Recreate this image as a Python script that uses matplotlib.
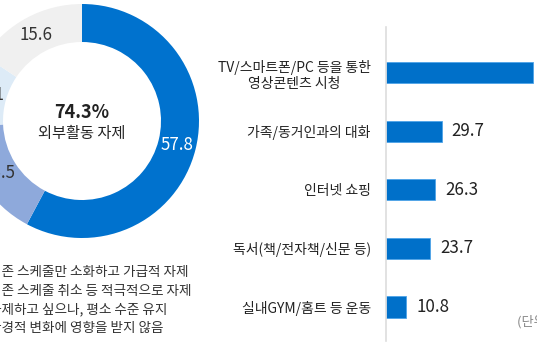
import numpy as np
import matplotlib
matplotlib.use("Agg")
import matplotlib.pyplot as plt

plt.rcParams['font.family'] = ['Noto Sans CJK KR', 'DejaVu Sans']

# 도넛 데이터
donut_values = [57.8, 16.5, 10.1, 15.6]
donut_colors = ['#0072CE', '#8EA9DB', '#DDEBF7', '#F0F0F0']
donut_text_colors = ['white', '#333333', '#333333', '#333333']
center_pct = "74.3%"
center_label = "외부활동 자제"

legend_lines = ["기존 스케줄만 소화하고 가급적 자제",
                "기존 스케줄 취소 등 적극적으로 자제",
                "자제하고 싶으나, 평소 수준 유지",
                "환경적 변화에 영향을 받지 않음"]

# 막대 데이터
bar_labels = ["TV/스마트폰/PC 등을 통한\n영상콘텐츠 시청",
              "가족/동거인과의 대화",
              "인터넷 쇼핑",
              "독서(책/전자책/신문 등)",
              "실내GYM/홈트 등 운동"]
bar_values = [78.6, 29.7, 26.3, 23.7, 10.8]
unit_text = "(단위: %)"

W, H = 537, 360
fig = plt.figure(figsize=(W / 100, H / 100), dpi=100)

def px_axes(x0, y0, w, h):
    # 픽셀 좌표(위쪽 기준)로 axes 생성
    return fig.add_axes([x0 / W, 1 - (y0 + h) / H, w / W, h / H])

# ---- 도넛 ----
cx, cy, R, r_in = 82, 121, 117, 79
ax1 = px_axes(cx - R, cy - R, 2 * R, 2 * R)
ax1.pie(donut_values, colors=donut_colors, startangle=90, counterclock=False,
        radius=1, wedgeprops=dict(width=(R - r_in) / R, linewidth=0))
ax1.set_xlim(-1, 1)
ax1.set_ylim(-1, 1)
ax1.set_aspect('equal')
ax1.axis('off')

cum = np.cumsum(donut_values)
total = cum[-1]
label_r = (R + r_in) / 2 / R
for v, c, tc in zip(donut_values, cum, donut_text_colors):
    mid = (c - v / 2) / total * 360
    ang = np.deg2rad(90 - mid)
    ax1.text(label_r * np.cos(ang), label_r * np.sin(ang), f"{v:.1f}",
             ha='center', va='center', fontsize=12.2, color=tc)

ax1.text(0, 0.075, center_pct, ha='center', va='center', fontsize=13,
         fontweight='bold', color='#222222')
ax1.text(0, -0.11, center_label, ha='center', va='center', fontsize=11,
         color='#222222')

# 범례 텍스트 (왼쪽이 잘린 형태)
for i, line in enumerate(legend_lines):
    fig.text(-11 / W, 1 - (272 + i * 18.7) / H, line, ha='left', va='center',
             fontsize=9.8, color='#333333')

# ---- 막대 ----
ax2 = px_axes(386, 27, W - 386, 341 - 27)
y = np.arange(len(bar_values))
ax2.barh(y, bar_values, height=0.36, color='#0070C9', edgecolor='#4DA3E8',
         linewidth=0.6)
ax2.set_xlim(0, (W - 386) / 1.87)
ax2.set_ylim(4.58, -0.78)
ax2.set_yticks(y)
ax2.set_yticklabels(bar_labels, fontsize=10, color='#222222',
                    multialignment='center', linespacing=1.25)
ax2.tick_params(axis='y', length=0, pad=11)
ax2.set_xticks([])
for s in ['top', 'right', 'bottom']:
    ax2.spines[s].set_visible(False)
ax2.spines['left'].set_color('#DDDDDD')
ax2.spines['left'].set_linewidth(1.2)
for yi, v in zip(y, bar_values):
    ax2.text(v + 10 / 1.87, yi, f"{v:.1f}", ha='left', va='center',
             fontsize=12.2, color='#222222', clip_on=True)

fig.text(517 / W, 1 - 322 / H, unit_text, ha='left', va='center',
         fontsize=9.5, color='#888888')

fig.savefig("out.png", dpi=100)
